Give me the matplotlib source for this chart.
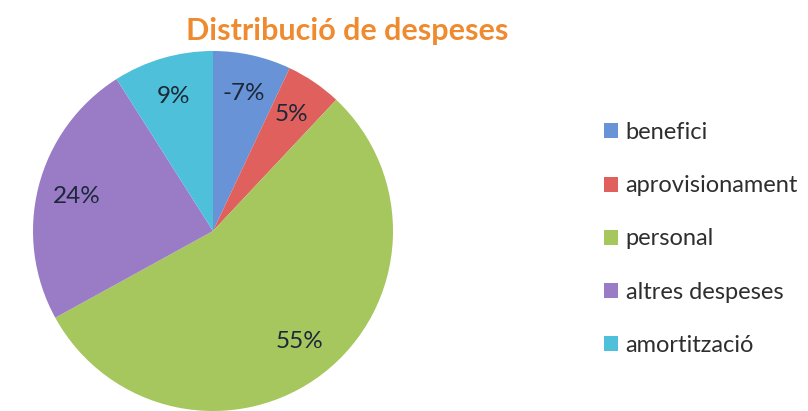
import numpy as np
import matplotlib.pyplot as plt

categories = ["benefici", "aprovisionament", "personal", "altres despeses", "amortització"]
values = [-7, 5, 55, 24, 9]
colors = ["#6893d6", "#e0605e", "#a6c65e", "#9a7cc6", "#4fc0da"]

plt.rcParams['font.family'] = ['Lato', 'DejaVu Sans']

fig = plt.figure(figsize=(8.08, 4.11), dpi=100)
ax = fig.add_axes([(213 - 180) / 808, 0, 360 / 808, 360 / 411])

wedges, texts = ax.pie([abs(v) for v in values], colors=colors, startangle=90,
                       counterclock=False, radius=1,
                       wedgeprops=dict(linewidth=0))
# percentage labels inside the wedges
for w, v in zip(wedges, values):
    ang = np.deg2rad((w.theta1 + w.theta2) / 2)
    ax.text(0.78 * np.cos(ang), 0.78 * np.sin(ang), f"{v}%", ha="center", va="center",
            fontsize=17.5, color="#1c2838")
ax.set_xlim(-1, 1)
ax.set_ylim(-1, 1)
ax.axis("off")

fig.text(347 / 808, (411 - 31) / 411, "Distribució de despeses", ha="center", va="center",
         fontsize=22, fontweight="bold", color="#f08a2e")

fig.legend(wedges, categories, loc="upper left", bbox_to_anchor=(583 / 808, (411 - 101) / 411),
           frameon=False, fontsize=17, handlelength=0.6, handleheight=0.6,
           handletextpad=0.3, labelspacing=1.36, labelcolor="#2e2e2e")

fig.savefig("out.png", dpi=100)
